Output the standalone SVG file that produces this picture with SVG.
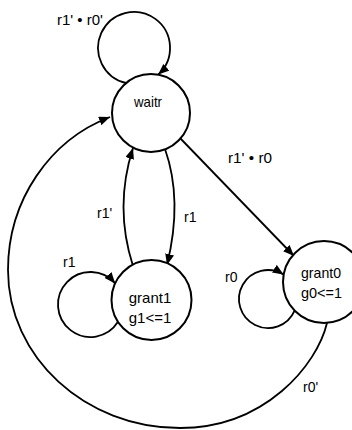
<svg xmlns="http://www.w3.org/2000/svg" width="352" height="430" viewBox="0 0 352 430">
<style>
.state{fill:#fff;stroke:#000;stroke-width:2}
.edge{fill:none;stroke:#000;stroke-width:1.8}
.nl{font-family:"Liberation Sans",Arial,sans-serif;font-size:15px;fill:#000;text-anchor:middle}
.el{font-family:"Liberation Sans",Arial,sans-serif;font-size:14px;fill:#000}
</style>
<defs>
<marker id="arr" markerUnits="userSpaceOnUse" markerWidth="12" markerHeight="10" refX="11" refY="4.5" orient="auto">
<path d="M0,0 L11,4.5 L0,9 z" fill="#000"/>
</marker>
</defs>
<rect width="352" height="430" fill="#fff"/>
<g id="connectors">
<path class="edge" d="M126,83 A36,36 0 1 1 158.2,74.6" marker-end="url(#arr)"/>
<path class="edge" d="M165,149 Q183,200 167,265" marker-end="url(#arr)"/>
<path class="edge" d="M133,266 Q114,207 133,148" marker-end="url(#arr)"/>
<path class="edge" d="M180,138 L294,256" marker-end="url(#arr)"/>
<path class="edge" d="M118,321.8 A32.5,32.5 0 1 1 115.2,283.4" marker-end="url(#arr)"/>
<path class="edge" d="M294.6,310.6 A29,29 0 1 1 283.6,274.6" marker-end="url(#arr)"/>
<path class="edge" d="M327,323 C317,365 265,428 180,428 C85,428 8,357 8,270 C8,200 50,140 110,117" marker-end="url(#arr)"/>
<text class="el" x="57" y="25" textLength="46" lengthAdjust="spacingAndGlyphs">r1' • r0'</text>
<text class="el" x="228" y="163" textLength="44" lengthAdjust="spacingAndGlyphs">r1' • r0</text>
<text class="el" x="184" y="222">r1</text>
<text class="el" x="97" y="218">r1'</text>
<text class="el" x="63" y="267">r1</text>
<text class="el" x="225" y="282">r0</text>
<text class="el" x="303" y="392">r0'</text>
</g>
<g id="waitr">
<circle class="state" cx="151" cy="113" r="39"/>
<text class="nl" x="148" y="107" textLength="28" lengthAdjust="spacingAndGlyphs">waitr</text>
</g>
<g id="grant1">
<circle class="state" cx="151.5" cy="300" r="40"/>
<text class="nl" x="150" y="303">grant1</text>
<text class="nl" x="150" y="323">g1&lt;=1</text>
</g>
<g id="grant0">
<circle class="state" cx="324" cy="282" r="41"/>
<text class="nl" x="321" y="278" textLength="40" lengthAdjust="spacingAndGlyphs">grant0</text>
<text class="nl" x="321.5" y="298" textLength="41" lengthAdjust="spacingAndGlyphs">g0&lt;=1</text>
</g>
</svg>
